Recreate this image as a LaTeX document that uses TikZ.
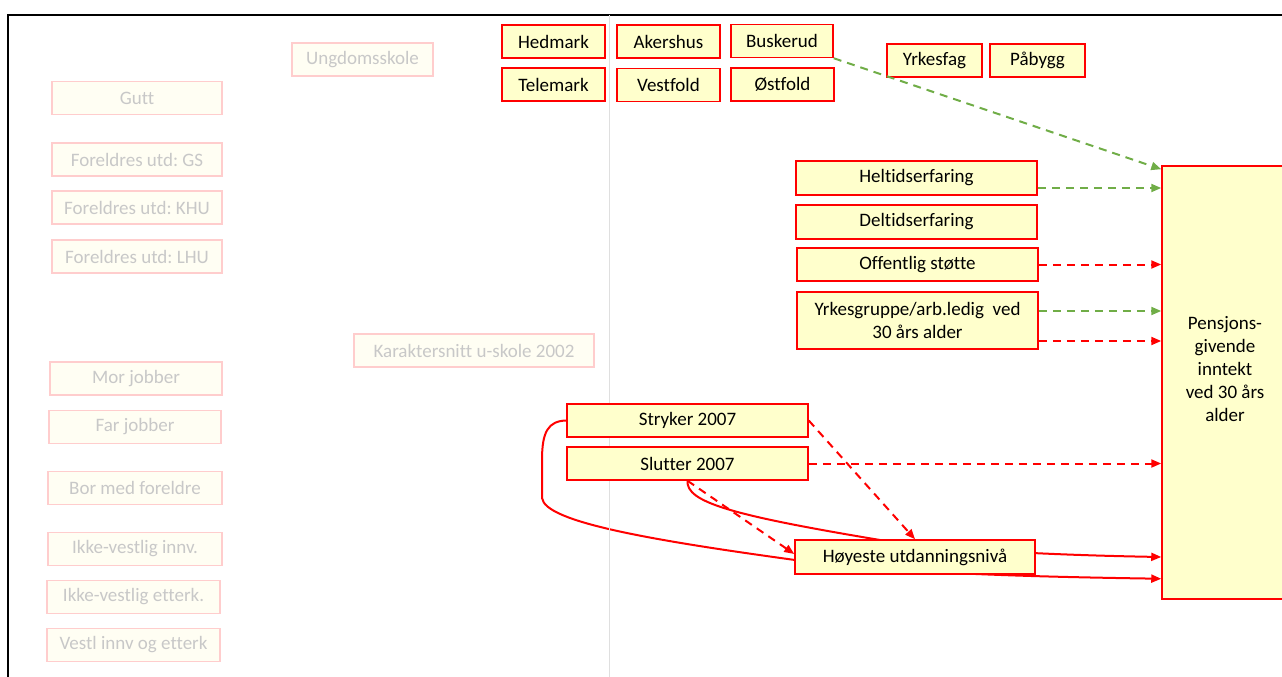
\documentclass[tikz,border=0pt]{standalone}
\usepackage{fontspec}
\setmainfont{Carlito}[Ligatures=NoCommon]
\usepackage{tikz}
\usetikzlibrary{shapes,arrows,arrows.meta,backgrounds,calc}
\frenchspacing
\definecolor{boxfill}{RGB}{255,255,204}
\definecolor{fadeline}{RGB}{255,205,205}
\definecolor{fadefill}{RGB}{255,254,243}
\definecolor{fadetext}{RGB}{200,200,200}
\definecolor{arrgreen}{RGB}{112,173,71}
\tikzstyle{rbox} = [rectangle, draw=red, fill=boxfill, line width=1.5pt, inner sep=0pt, minimum height=33pt, align=center, font=\fontsize{19}{23}\selectfont]
\tikzstyle{fbox} = [rectangle, draw=fadeline, fill=fadefill, text=fadetext, line width=1.5pt, inner sep=0pt, minimum height=33pt, font=\fontsize{19}{23}\selectfont]
\tikzstyle{rdash} = [draw=red, line width=2pt, dash pattern=on 8pt off 6pt, -{Triangle[length=10pt,width=8pt]}]
\tikzstyle{gdash} = [draw=arrgreen, line width=2pt, dash pattern=on 8pt off 6pt, -{Triangle[length=10pt,width=8pt]}]
\tikzstyle{rline} = [draw=red, line width=2pt, -{Triangle[length=10pt,width=8pt]}]

\begin{document}
\begin{tikzpicture}[x=1pt, y=-1pt]
			\useasboundingbox (0,0) rectangle (1282,677);
			\draw [line width=2pt] (8,677) -- (8,15) -- (1282,15);
			\draw [gray!25, line width=1pt] (609,15) -- (609,677);

			% faded boxes
			\node [fbox, minimum width=141pt] (ung) at (362.5, 59.5) {Ungdomsskole};
			\node [fbox, minimum width=170pt] (gutt) at (137, 98) {Gutt};
			\node [fbox, minimum width=170pt] (gs) at (137, 159.5) {Foreldres utd: GS};
			\node [fbox, minimum width=170pt] (khu) at (137, 207.5) {Foreldres utd: KHU};
			\node [fbox, minimum width=170pt] (lhu) at (137, 256.5) {Foreldres utd: LHU};
			\node [fbox, minimum width=240pt] (kar) at (474, 350.5) {Karaktersnitt u-skole 2002};
			\node [fbox, minimum width=172pt] (mor) at (136, 378.5) {Mor jobber};
			\node [fbox, minimum width=172pt] (far) at (135, 427) {Far jobber};
			\node [fbox, minimum width=174pt] (bor) at (135, 488) {Bor med foreldre};
			\node [fbox, minimum width=174pt] (ikinn) at (135, 549) {Ikke-vestlig innv.};
			\node [fbox, minimum width=173pt] (iketk) at (133.5, 597) {Ikke-vestlig etterk.};
			\node [fbox, minimum width=173pt] (vestl) at (133.5, 645) {Vestl innv og etterk};

			% fylker og linjer
			\node [rbox, minimum width=103pt] (hed) at (553.5, 41.5) {Hedmark};
			\node [rbox, minimum width=103pt] (aker) at (668.5, 41.5) {Akershus};
			\node [rbox, minimum width=102pt] (busk) at (782, 41) {Buskerud};
			\node [rbox, minimum width=103pt] (tele) at (553.5, 84.5) {Telemark};
			\node [rbox, minimum width=103pt] (vest) at (668.5, 85) {Vestfold};
			\node [rbox, minimum width=103pt] (ost) at (782.5, 84.5) {Østfold};
			\node [rbox, minimum width=95pt] (yrkf) at (934.5, 60.5) {Yrkesfag};
			\node [rbox, minimum width=95pt] (pab) at (1037.5, 60.5) {Påbygg};

			\node [rbox, minimum width=241pt, minimum height=34pt] (helt) at (916.5, 178) {Heltidserfaring};
			\node [rbox, minimum width=241pt, minimum height=34pt] (delt) at (916.5, 222) {Deltidserfaring};
			\node [rbox, minimum width=241pt] (off) at (917.5, 264.5) {Offentlig støtte};
			\node [rbox, minimum width=241pt, minimum height=57pt] (yrk) at (917.5, 320.5) {Yrkesgruppe/arb.ledig\ \ ved\\30 års alder};
			\node [rbox, minimum width=126pt, minimum height=433pt] (pens) at (1225, 382.5) {Pensjons-\\givende\\inntekt\\ved 30 års\\alder\\[4pt]\ };

			\node [rbox, minimum width=241pt] (stry) at (687.5, 420.5) {Stryker 2007};
			\node [rbox, minimum width=241pt] (slut) at (687.5, 463.5) {Slutter 2007};
			\node [rbox, minimum width=240pt, minimum height=34pt] (hoy) at (915, 557) {Høyeste utdanningsnivå};

			\path [gdash] (busk.south east) -- ($(pens.north west)+(0,4)$);
			\path [gdash] ($(helt.east)+(0,10)$) -- ($(pens.west |- helt.east)+(0,10)$);
			\path [rdash] (off.east) -- (pens.west |- off.east);
			\path [gdash] ($(yrk.east)+(0,-9.5)$) -- ($(pens.west |- yrk.east)+(0,-9.5)$);
			\path [rdash] ($(yrk.east)+(0,20.5)$) -- ($(pens.west |- yrk.east)+(0,20.5)$);
			\path [rdash] (slut.east) -- (pens.west |- slut.east);
			\path [rdash] (stry.east) -- (hoy.north);
			\path [rdash] (slut.south) -- ($(hoy.west)+(0,-3)$);

			\begin{scope}[on background layer]
			\path [rline] (stry.west) .. controls (548,421) and (542,432) .. (542,460) -- (542,498) .. controls (545,522) and (650,540) .. (795,560) .. controls (900,574) and (1050,577) .. ($(pens.west |- hoy.south)+(0,4)$);
			\path [rline] (slut.south) .. controls (686,502) and (730,515) .. (880,540) .. controls (950,550) and (1050,555) .. (pens.west |- hoy.east);
			\end{scope}
		\end{tikzpicture}
\end{document}
